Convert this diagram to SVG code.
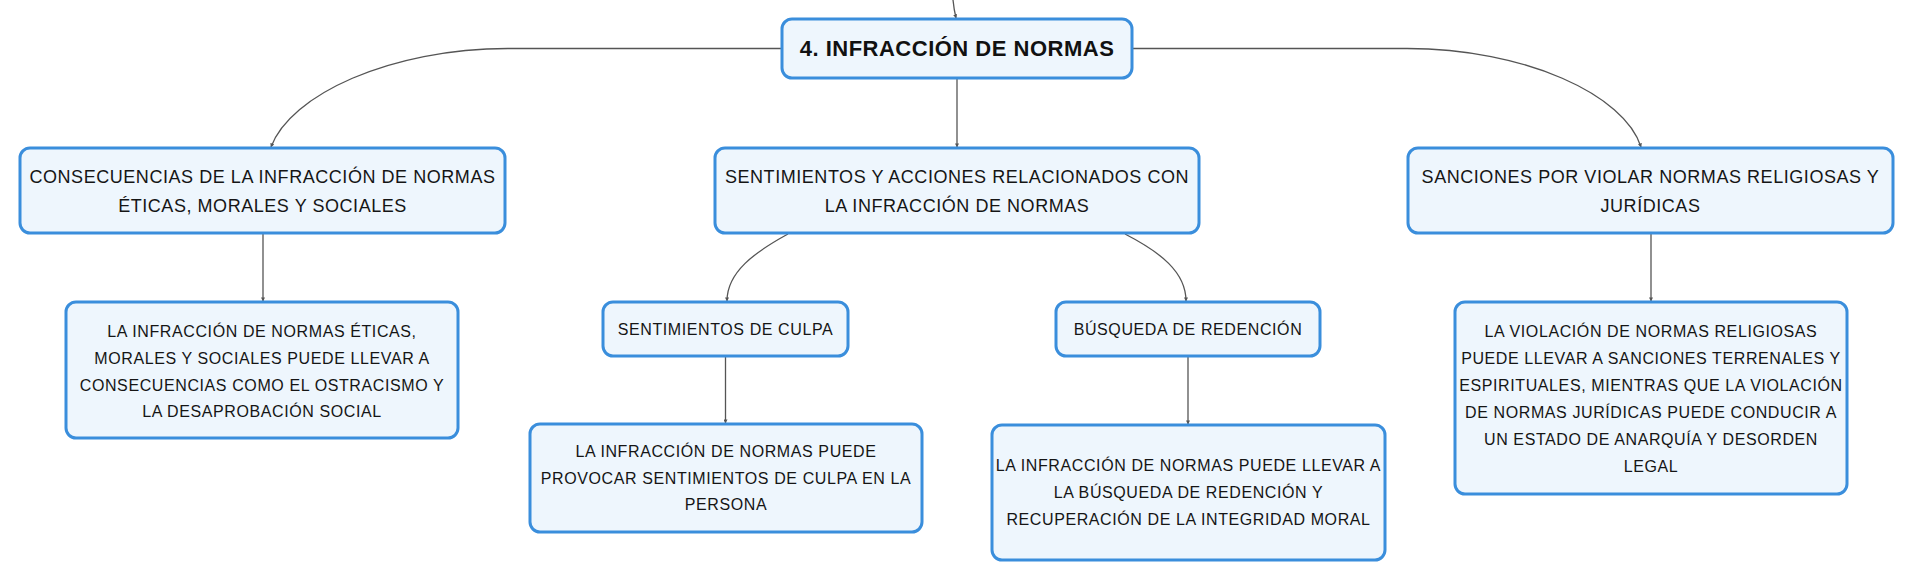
<svg xmlns="http://www.w3.org/2000/svg" width="1914" height="580" viewBox="0 0 1914 580">
<style>
.box{fill:#eef6fd;stroke:#3a8edc;stroke-width:3}
.t{font-family:"Liberation Sans",Arial,sans-serif;fill:#151515;text-anchor:middle}
.t1{font-size:18px;letter-spacing:0.55px}
.t2{font-size:16px;letter-spacing:0.6px}
.root{font-family:"Liberation Sans",Arial,sans-serif;font-weight:bold;font-size:22px;letter-spacing:0.5px;fill:#111;text-anchor:middle}
.c{fill:none;stroke:#555;stroke-width:1.3}
</style>
<defs>
<marker id="ah" viewBox="0 0 10 10" refX="9" refY="5" markerWidth="4" markerHeight="4" orient="auto" markerUnits="userSpaceOnUse">
<path d="M0,0 L10,5 L0,10 z" fill="#555"/>
</marker>
</defs>
<rect width="1914" height="580" fill="#ffffff"/>
<g id="connectors">
<path class="c" d="M953,0 Q954,10 956,18" marker-end="url(#ah)"/>
<path class="c" d="M782,48.5 H508 C390,48.5 290,95 271,147" marker-end="url(#ah)"/>
<path class="c" d="M957,79 V147" marker-end="url(#ah)"/>
<path class="c" d="M1132,48.5 H1407 C1525,48.5 1625,95 1641,147" marker-end="url(#ah)"/>
<path class="c" d="M263,234 V301" marker-end="url(#ah)"/>
<path class="c" d="M788,234 C755,252 727,272 727,301" marker-end="url(#ah)"/>
<path class="c" d="M1125,234 C1160,252 1186,272 1186,301" marker-end="url(#ah)"/>
<path class="c" d="M725.5,357 V423" marker-end="url(#ah)"/>
<path class="c" d="M1188,357 V424" marker-end="url(#ah)"/>
<path class="c" d="M1651,234 V301" marker-end="url(#ah)"/>
</g>
<g id="root">
<rect class="box" x="782" y="19" width="350" height="59" rx="10"/>
<text class="root" x="957" y="56">4. INFRACCIÓN DE NORMAS</text>
</g>
<g id="consecuencias">
<rect class="box" x="20" y="148" width="485" height="85" rx="10"/>
<text class="t t1" x="262.5" y="183">CONSECUENCIAS DE LA INFRACCIÓN DE NORMAS</text>
<text class="t t1" x="262.5" y="212">ÉTICAS, MORALES Y SOCIALES</text>
</g>
<g id="sentimientos-acciones">
<rect class="box" x="715" y="148" width="484" height="85" rx="10"/>
<text class="t t1" x="957" y="183">SENTIMIENTOS Y ACCIONES RELACIONADOS CON</text>
<text class="t t1" x="957" y="212">LA INFRACCIÓN DE NORMAS</text>
</g>
<g id="sanciones">
<rect class="box" x="1408" y="148" width="485" height="85" rx="10"/>
<text class="t t1" x="1650.5" y="183">SANCIONES POR VIOLAR NORMAS RELIGIOSAS Y</text>
<text class="t t1" x="1650.5" y="212">JURÍDICAS</text>
</g>
<g id="consecuencias-detalle">
<rect class="box" x="66" y="302" width="392" height="136" rx="10"/>
<text class="t t2" x="262" y="337">LA INFRACCIÓN DE NORMAS ÉTICAS,</text>
<text class="t t2" x="262" y="364">MORALES Y SOCIALES PUEDE LLEVAR A</text>
<text class="t t2" x="262" y="390.5">CONSECUENCIAS COMO EL OSTRACISMO Y</text>
<text class="t t2" x="262" y="417">LA DESAPROBACIÓN SOCIAL</text>
</g>
<g id="culpa">
<rect class="box" x="603" y="302" width="245" height="54" rx="10"/>
<text class="t t2" x="725.5" y="335">SENTIMIENTOS DE CULPA</text>
</g>
<g id="culpa-detalle">
<rect class="box" x="530" y="424" width="392" height="108" rx="10"/>
<text class="t t2" x="726" y="457">LA INFRACCIÓN DE NORMAS PUEDE</text>
<text class="t t2" x="726" y="483.5">PROVOCAR SENTIMIENTOS DE CULPA EN LA</text>
<text class="t t2" x="726" y="510">PERSONA</text>
</g>
<g id="redencion">
<rect class="box" x="1056" y="302" width="264" height="54" rx="10"/>
<text class="t t2" x="1188" y="335">BÚSQUEDA DE REDENCIÓN</text>
</g>
<g id="redencion-detalle">
<rect class="box" x="992" y="425" width="393" height="135" rx="10"/>
<text class="t t2" x="1188.5" y="471">LA INFRACCIÓN DE NORMAS PUEDE LLEVAR A</text>
<text class="t t2" x="1188.5" y="498">LA BÚSQUEDA DE REDENCIÓN Y</text>
<text class="t t2" x="1188.5" y="525">RECUPERACIÓN DE LA INTEGRIDAD MORAL</text>
</g>
<g id="sanciones-detalle">
<rect class="box" x="1455" y="302" width="392" height="192" rx="10"/>
<text class="t t2" x="1651" y="337">LA VIOLACIÓN DE NORMAS RELIGIOSAS</text>
<text class="t t2" x="1651" y="364">PUEDE LLEVAR A SANCIONES TERRENALES Y</text>
<text class="t t2" x="1651" y="391">ESPIRITUALES, MIENTRAS QUE LA VIOLACIÓN</text>
<text class="t t2" x="1651" y="418">DE NORMAS JURÍDICAS PUEDE CONDUCIR A</text>
<text class="t t2" x="1651" y="445">UN ESTADO DE ANARQUÍA Y DESORDEN</text>
<text class="t t2" x="1651" y="472">LEGAL</text>
</g>
</svg>
